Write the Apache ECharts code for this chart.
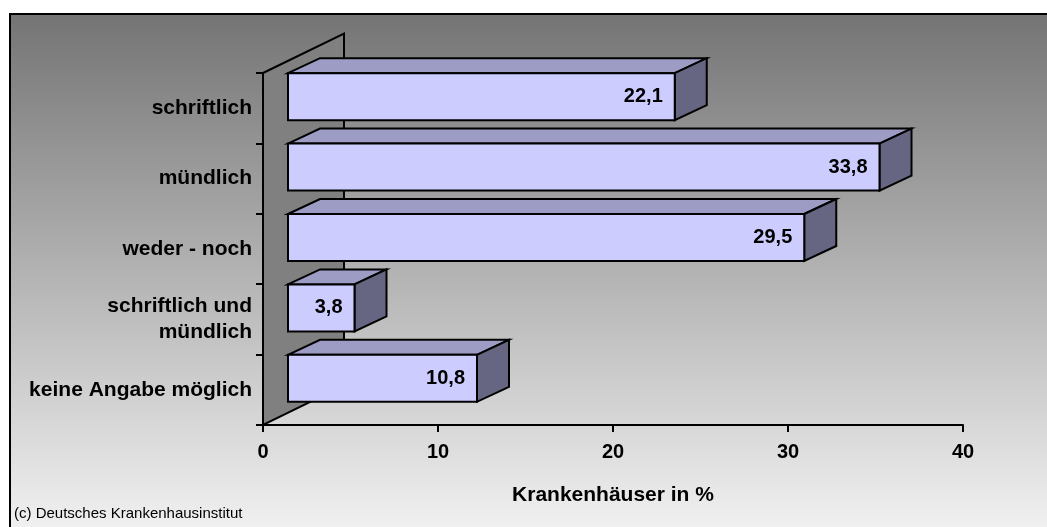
<!DOCTYPE html>
<html>
<head>
<meta charset="utf-8">
<script src="https://cdn.jsdelivr.net/npm/echarts@6/dist/echarts.min.js"></script>
<style>
html,body{margin:0;padding:0;background:#fff;}
#c{width:1047px;height:527px;}
</style>
</head>
<body>
<div id="c"></div>
<script>
const categories = ['schriftlich', 'mündlich', 'weder - noch', 'schriftlich und\nmündlich', 'keine Angabe möglich'];
const values = [22.1, 33.8, 29.5, 3.8, 10.8];
const xTicks = [0, 10, 20, 30, 40];
const xAxisTitle = 'Krankenhäuser in %';
const footer = '(c) Deutsches Krankenhausinstitut';

const FONT = '"Liberation Sans", Arial, Helvetica, sans-serif';
const WALL_DX = 81, WALL_DY = -39.5;
const BAR_OX = 25, BAR_OY = -11.5, BAR_H = 47, BAR_DX = 32, BAR_DY = -15;

const chart = echarts.init(document.getElementById('c'), null, {renderer: 'canvas'});

const option = {
  animation: false,
  graphic: [
    {
      type: 'rect', z: -10, silent: true,
      shape: {x: 10, y: 14, width: 1060, height: 540},
      style: {
        fill: new echarts.graphic.LinearGradient(0, 0, 0, 1, [
          {offset: 0, color: '#747474'},
          {offset: 1, color: '#f7f7f7'}
        ]),
        stroke: '#000', lineWidth: 2
      }
    },
    {
      type: 'text', left: 14, top: 506, z: 10,
      style: {text: footer, font: '15px ' + FONT, fill: '#000'}
    }
  ],
  grid: {left: 263, right: 84, top: 73, bottom: 102, containLabel: false},
  xAxis: {
    type: 'value', min: xTicks[0], max: xTicks[xTicks.length - 1], interval: 10,
    axisLine: {show: true, lineStyle: {color: '#000', width: 2}},
    axisTick: {show: true, length: 7, lineStyle: {color: '#000', width: 2}},
    axisLabel: {color: '#000', fontFamily: FONT, fontWeight: 'bold', fontSize: 20, margin: 17},
    splitLine: {show: false},
    name: xAxisTitle, nameLocation: 'middle', nameGap: 60,
    nameTextStyle: {color: '#000', fontFamily: FONT, fontWeight: 'bold', fontSize: 21}
  },
  yAxis: {
    type: 'category', inverse: true, data: categories,
    axisLine: {show: true, lineStyle: {color: '#000', width: 2}},
    axisTick: {show: true, length: 7, lineStyle: {color: '#000', width: 2}},
    axisLabel: {color: '#000', fontFamily: FONT, fontWeight: 'bold', fontSize: 21, margin: 11, lineHeight: 26, align: 'right'},
    splitLine: {show: false}
  },
  series: [
    {
      type: 'custom', z: 1, silent: true,
      data: [[0]],
      renderItem: function (params, api) {
        const cs = params.coordSys;
        const x = cs.x, y = cs.y, h = cs.height;
        return {
          type: 'polygon',
          shape: {points: [[x, y], [x + WALL_DX, y + WALL_DY], [x + WALL_DX, y + h + WALL_DY], [x, y + h]]},
          style: {fill: '#808080', stroke: '#000', lineWidth: 2}
        };
      }
    },
    {
      type: 'custom', z: 3, silent: true,
      encode: {x: 1, y: 0},
      data: values.map((v, i) => [i, v]),
      renderItem: function (params, api) {
        const ci = api.value(0), v = api.value(1);
        const p0 = api.coord([0, ci]);
        const p1 = api.coord([v, ci]);
        const xL = p0[0] + BAR_OX, xR = p1[0] + BAR_OX;
        const yT = p0[1] + BAR_OY - BAR_H / 2, yB = yT + BAR_H;
        const stroke = {stroke: '#000', lineWidth: 2, lineJoin: 'miter'};
        const label = v.toFixed(1).replace('.', ',');
        return {
          type: 'group',
          children: [
            {type: 'polygon', shape: {points: [[xL, yT], [xL + BAR_DX, yT + BAR_DY], [xR + BAR_DX, yT + BAR_DY], [xR, yT]]},
             style: Object.assign({fill: '#9c9cc4'}, stroke)},
            {type: 'polygon', shape: {points: [[xR, yT], [xR + BAR_DX, yT + BAR_DY], [xR + BAR_DX, yB + BAR_DY], [xR, yB]]},
             style: Object.assign({fill: '#666682'}, stroke)},
            {type: 'rect', shape: {x: xL, y: yT, width: xR - xL, height: BAR_H},
             style: Object.assign({fill: '#ccccff'}, stroke)},
            {type: 'text', x: xR - 12, y: (yT + yB) / 2,
             style: {text: label, fill: '#000', font: 'bold 20px ' + FONT, align: 'right', verticalAlign: 'middle'}}
          ]
        };
      }
    }
  ]
};
chart.setOption(option);
</script>
</body>
</html>
